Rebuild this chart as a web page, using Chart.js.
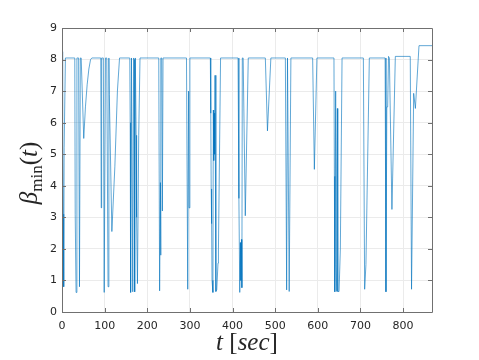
<!DOCTYPE html>
<html>
<head>
<meta charset="utf-8">
<script src="https://cdn.jsdelivr.net/npm/chart.js@4"></script>
<style>
  html, body { margin: 0; padding: 0; background: #fff; }
  #wrap { width: 479px; height: 360px; }
</style>
</head>
<body>
<div id="wrap"><canvas id="betaChart" width="479" height="360"></canvas></div>
<script>
// time samples (sec) and beta_min values
const tValues = [
  0, 1, 2, 3, 4, 5, 8,
  30, 31, 33, 35, 39, 41, 43, 45, 51, 55, 59, 63, 67, 70,
  91, 92, 93, 97, 99, 102, 105, 108, 110, 111, 117, 124, 130, 135,
  159, 160, 161, 163, 164, 166, 168, 169, 170.5, 172, 174, 175, 177, 180, 183,
  227, 229, 231, 231.5, 232, 234, 235.5, 237,
  292, 295, 297, 298, 300,
  348, 349, 350, 351, 352, 354, 355, 356, 357, 358, 359, 361, 363, 366, 367, 372,
  413, 415, 417, 418.5, 419.5, 421, 422, 423, 425, 430, 437,
  477, 482, 490,
  524, 527, 529, 530, 533, 537,
  588, 592, 598,
  638, 639, 640, 642, 643, 644, 645, 646, 647, 650, 651, 653, 657,
  707, 710, 713, 721,
  758, 760, 762, 764, 766, 768, 774, 782,
  817, 820, 825, 829, 837.5, 868
];
const betaValues = [
  8.25, 1.0, 5.3, 3.1, 0.8, 5.2, 8.05,
  8.05, 3.1, 0.62, 8.05, 8.05, 0.8, 8.05, 8.05, 5.5, 6.5, 7.2, 7.7, 8.0, 8.05,
  8.05, 3.3, 8.05, 8.05, 0.62, 8.05, 8.05, 0.8, 8.05, 6.9, 2.55, 4.6, 7.0, 8.05,
  8.05, 6.0, 0.62, 8.05, 8.05, 0.64, 8.05, 8.0, 0.64, 8.05, 5.6, 3.0, 0.9, 5.6, 8.05,
  8.05, 0.67, 4.1, 1.8, 8.05, 8.05, 3.2, 8.05,
  8.05, 0.72, 7.0, 3.3, 8.05,
  8.05, 6.3, 3.9, 2.8, 1.0, 0.62, 6.4, 4.8, 6.3, 5.0, 7.5, 0.65, 0.7, 1.55, 2.0, 8.05,
  8.05, 3.6, 0.62, 2.2, 1.0, 2.3, 0.77, 8.05, 8.05, 3.05, 8.05,
  8.05, 5.74, 8.05,
  8.05, 0.7, 8.05, 8.05, 0.65, 8.05,
  8.05, 4.52, 8.05,
  8.05, 4.3, 0.64, 7.0, 1.5, 0.65, 4.5, 6.45, 0.65, 0.65, 0.65, 2.0, 8.05,
  8.05, 0.72, 1.5, 8.05,
  8.05, 0.64, 6.5, 6.5, 8.1, 8.05, 3.25, 8.1,
  8.1, 0.72, 6.93, 6.45, 8.44, 8.44
];
const xTicks = [0, 100, 200, 300, 400, 500, 600, 700, 800];
const yTicks = [0, 1, 2, 3, 4, 5, 6, 7, 8, 9];

const points = tValues.map((t, i) => ({ x: t, y: betaValues[i] }));

const tickFont = { family: 'DejaVu Sans', size: 11 };
const serif = '"Liberation Serif"';

// MATLAB style box, inward ticks and LaTeX-like axis labels
const matlabBox = {
  id: 'matlabBox',
  afterDraw(chart) {
    const ctx = chart.ctx;
    const a = chart.chartArea;
    const xs = chart.scales.x, ys = chart.scales.y;
    ctx.save();
    ctx.strokeStyle = '#707070';
    ctx.lineWidth = 1;
    ctx.beginPath();
    ctx.rect(Math.round(a.left) + 0.5, Math.round(a.top) + 0.5,
             Math.round(a.right - a.left), Math.round(a.bottom - a.top));
    xTicks.forEach(v => {
      const px = Math.round(xs.getPixelForValue(v)) + 0.5;
      ctx.moveTo(px, a.bottom); ctx.lineTo(px, a.bottom - 4);
      ctx.moveTo(px, a.top); ctx.lineTo(px, a.top + 4);
    });
    yTicks.forEach(v => {
      const py = Math.round(ys.getPixelForValue(v)) + 0.5;
      ctx.moveTo(a.left, py); ctx.lineTo(a.left + 4, py);
      ctx.moveTo(a.right, py); ctx.lineTo(a.right - 4, py);
    });
    ctx.stroke();

    ctx.fillStyle = '#262626';
    ctx.textBaseline = 'alphabetic';
    // x label: t [sec]
    const parts = [
      ['t', 'italic 25px ' + serif],
      [' [', '25px ' + serif],
      ['sec', 'italic 25px ' + serif],
      [']', '25px ' + serif]
    ];
    let w = 0;
    parts.forEach(p => { ctx.font = p[1]; w += ctx.measureText(p[0]).width; });
    let x = (a.left + a.right) / 2 - w / 2;
    parts.forEach(p => { ctx.font = p[1]; ctx.fillText(p[0], x, 350); x += ctx.measureText(p[0]).width; });

    // y label: beta_min(t)
    ctx.translate(37, 173);
    ctx.rotate(-Math.PI / 2);
    const yparts = [
      ['β', 'italic 25px ' + serif, 0],
      ['min', '17px ' + serif, 5],
      ['(', '25px ' + serif, 0],
      ['t', 'italic 25px ' + serif, 0],
      [')', '25px ' + serif, 0]
    ];
    w = 0;
    yparts.forEach(p => { ctx.font = p[1]; w += ctx.measureText(p[0]).width; });
    x = -w / 2;
    yparts.forEach(p => { ctx.font = p[1]; ctx.fillText(p[0], x, p[2]); x += ctx.measureText(p[0]).width; });
    ctx.restore();
  }
};

new Chart(document.getElementById('betaChart'), {
  type: 'line',
  data: {
    datasets: [{
      label: 'beta_min',
      data: points,
      borderColor: 'rgba(0,114,189,0.62)',
      borderWidth: 1,
      pointRadius: 0,
      tension: 0,
      fill: false
    }]
  },
  options: {
    responsive: false,
    animation: false,
    layout: { padding: { top: 28, right: 47, left: 0, bottom: 0 } },
    plugins: { legend: { display: false }, tooltip: { enabled: false } },
    scales: {
      x: {
        type: 'linear',
        min: 0,
        max: 868,
        afterFit: s => { s.height = 48; },
        afterBuildTicks: s => { s.ticks = xTicks.map(v => ({ value: v })); },
        ticks: { font: tickFont, color: '#262626', padding: 8, maxRotation: 0 },
        grid: { color: '#ebebeb', drawTicks: false },
        border: { display: false }
      },
      y: {
        type: 'linear',
        min: 0,
        max: 9,
        afterFit: s => { s.width = 62; },
        afterBuildTicks: s => { s.ticks = yTicks.map(v => ({ value: v })); },
        ticks: { font: tickFont, color: '#262626', padding: 5 },
        grid: { color: '#ebebeb', drawTicks: false },
        border: { display: false }
      }
    }
  },
  plugins: [matlabBox]
});
</script>
</body>
</html>
